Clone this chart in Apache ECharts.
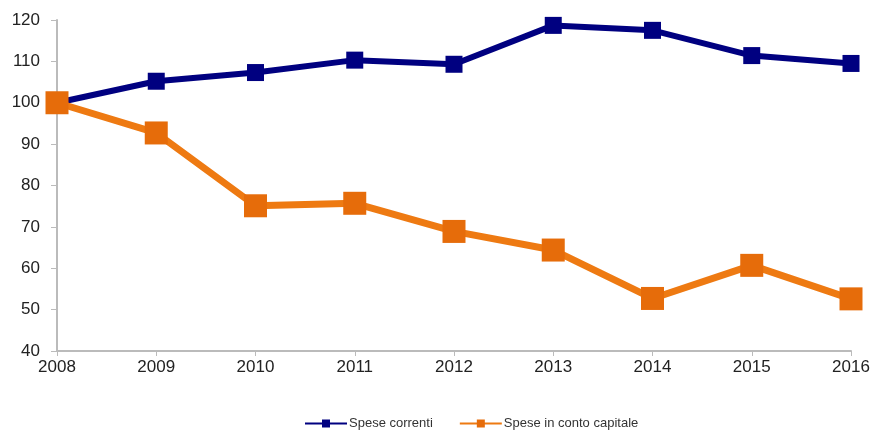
<!DOCTYPE html>
<html><head><meta charset="utf-8">
<script src="https://cdn.jsdelivr.net/npm/echarts@6/dist/echarts.min.js"></script>
<style>html,body{margin:0;padding:0;background:#fff}#c{width:875px;height:432px}</style>
</head><body><div id="c"></div>
<script>
const years = ['2008','2009','2010','2011','2012','2013','2014','2015','2016'];
const speseCorrenti = [100, 105.2, 107.3, 110.3, 109.3, 118.7, 117.5, 111.4, 109.5];
const speseCapitale = [100, 92.7, 75.1, 75.7, 68.9, 64.4, 52.7, 60.7, 52.6];
const seriesNames = ['Spese correnti', 'Spese in conto capitale'];
const chart = echarts.init(document.getElementById('c'));
const ff = '"Liberation Sans", Arial, sans-serif';
chart.setOption({
  animation: false,
  grid: {left: 57, right: 24, top: 20, bottom: 81, containLabel: false},
  legend: {
    bottom: -3, left: 299, itemGap: 26, itemWidth: 42, itemHeight: 10,
    textStyle: {fontFamily: ff, fontSize: 13, color: '#333', padding: [0, 0, 0, -3]},
    data: seriesNames
  },
  xAxis: {
    type: 'category', boundaryGap: false, data: years,
    axisLine: {lineStyle: {color: '#bbb', width: 2}},
    axisTick: {length: 5, lineStyle: {color: '#bbb'}},
    axisLabel: {fontFamily: ff, fontSize: 17, color: '#222', margin: 8}
  },
  yAxis: {
    type: 'value', min: 40, max: 120, interval: 10,
    splitLine: {show: false},
    axisLine: {show: true, lineStyle: {color: '#bbb', width: 2}},
    axisTick: {show: true, length: 6, lineStyle: {color: '#bbb'}},
    axisLabel: {fontFamily: ff, fontSize: 17, color: '#222', margin: 17}
  },
  series: [
    {name: seriesNames[0], type: 'line', data: speseCorrenti, symbol: 'rect', symbolSize: 17,
     color: '#000080', lineStyle: {width: 6, color: '#000080'}, itemStyle: {color: '#000080'}, z: 3},
    {name: seriesNames[1], type: 'line', data: speseCapitale, symbol: 'rect', symbolSize: 23,
     color: '#E66C0A', lineStyle: {width: 7, color: '#EE7A12'}, itemStyle: {color: '#E66C0A'}, z: 4}
  ]
});
</script></body></html>
